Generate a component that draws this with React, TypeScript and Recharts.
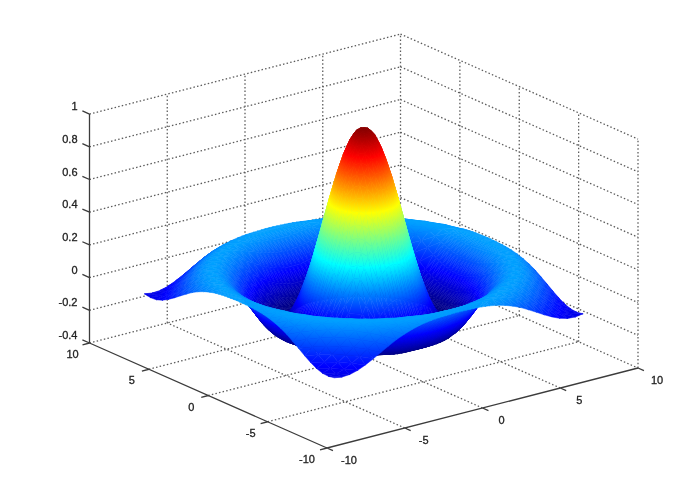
import { ScatterChart, Scatter, XAxis, YAxis } from 'recharts';

// Distance of each grid line from the centre; finer around the peak
const gridSteps = [0, 0.25, 0.5, 0.75, 1, 1.25, 1.5, 1.75, 2, 2.5, 3, 3.5, 4, 4.5, 5, 5.5, 6, 6.5, 7, 7.5, 8];

// Surface heights, quarter of the grid from the centre outwards
const zRow0 = [0.99, 0.985, 0.959, 0.909, 0.841, 0.759, 0.665, 0.562, 0.455, 0.239, 0.047, -0.1, -0.189, -0.217, -0.192, -0.128, -0.047, 0.033, 0.094, 0.125, 0.124];
const zRow1 = [0.985, 0.979, 0.949, 0.899, 0.832, 0.75, 0.657, 0.555, 0.448, 0.234, 0.043, -0.102, -0.19, -0.217, -0.191, -0.127, -0.046, 0.034, 0.094, 0.125, 0.124];
const zRow2 = [0.959, 0.949, 0.919, 0.87, 0.804, 0.724, 0.632, 0.532, 0.428, 0.219, 0.033, -0.109, -0.192, -0.217, -0.189, -0.125, -0.043, 0.036, 0.096, 0.126, 0.123];
const zRow3 = [0.909, 0.899, 0.87, 0.823, 0.759, 0.682, 0.593, 0.496, 0.396, 0.194, 0.016, -0.119, -0.197, -0.217, -0.186, -0.12, -0.039, 0.039, 0.098, 0.126, 0.122];
const zRow4 = [0.841, 0.832, 0.804, 0.759, 0.698, 0.624, 0.54, 0.448, 0.352, 0.161, -0.006, -0.131, -0.202, -0.216, -0.182, -0.114, -0.033, 0.044, 0.1, 0.127, 0.121];
const zRow5 = [0.759, 0.75, 0.724, 0.682, 0.624, 0.555, 0.475, 0.389, 0.299, 0.121, -0.033, -0.146, -0.207, -0.214, -0.175, -0.106, -0.025, 0.05, 0.104, 0.127, 0.12];
const zRow6 = [0.665, 0.657, 0.632, 0.593, 0.54, 0.475, 0.402, 0.322, 0.239, 0.077, -0.063, -0.162, -0.212, -0.211, -0.167, -0.096, -0.016, 0.057, 0.107, 0.128, 0.118];
const zRow7 = [0.562, 0.555, 0.532, 0.496, 0.448, 0.389, 0.322, 0.25, 0.175, 0.029, -0.094, -0.178, -0.215, -0.206, -0.157, -0.085, -0.005, 0.064, 0.111, 0.128, 0.115];
const zRow8 = [0.455, 0.448, 0.428, 0.396, 0.352, 0.299, 0.239, 0.175, 0.109, -0.019, -0.124, -0.192, -0.217, -0.199, -0.145, -0.071, 0.007, 0.073, 0.115, 0.128, 0.112];
const zRow9 = [0.239, 0.234, 0.219, 0.194, 0.161, 0.121, 0.077, 0.029, -0.019, -0.109, -0.177, -0.213, -0.212, -0.176, -0.114, -0.04, 0.033, 0.09, 0.123, 0.126, 0.103];
const zRow10 = [0.047, 0.043, 0.033, 0.016, -0.006, -0.033, -0.063, -0.094, -0.124, -0.177, -0.21, -0.216, -0.192, -0.142, -0.075, -0.003, 0.061, 0.107, 0.128, 0.121, 0.09];
const zRow11 = [-0.1, -0.102, -0.109, -0.119, -0.131, -0.146, -0.162, -0.178, -0.192, -0.213, -0.216, -0.196, -0.155, -0.096, -0.029, 0.036, 0.089, 0.121, 0.128, 0.11, 0.073];
const zRow12 = [-0.189, -0.19, -0.192, -0.197, -0.202, -0.207, -0.212, -0.215, -0.217, -0.212, -0.192, -0.155, -0.104, -0.043, 0.019, 0.073, 0.111, 0.128, 0.121, 0.094, 0.052];
const zRow13 = [-0.217, -0.217, -0.217, -0.217, -0.216, -0.214, -0.211, -0.206, -0.199, -0.176, -0.142, -0.096, -0.043, 0.013, 0.064, 0.103, 0.125, 0.126, 0.107, 0.072, 0.026];
const zRow14 = [-0.192, -0.191, -0.189, -0.186, -0.182, -0.175, -0.167, -0.157, -0.145, -0.114, -0.075, -0.029, 0.019, 0.064, 0.1, 0.123, 0.128, 0.115, 0.085, 0.044, -0.001];
const zRow15 = [-0.128, -0.127, -0.125, -0.12, -0.114, -0.106, -0.096, -0.085, -0.071, -0.04, -0.003, 0.036, 0.073, 0.103, 0.123, 0.128, 0.118, 0.093, 0.056, 0.013, -0.029];
const zRow16 = [-0.047, -0.046, -0.043, -0.039, -0.033, -0.025, -0.016, -0.005, 0.007, 0.033, 0.061, 0.089, 0.111, 0.125, 0.128, 0.118, 0.095, 0.062, 0.022, -0.019, -0.054];
const zRow17 = [0.033, 0.034, 0.036, 0.039, 0.044, 0.05, 0.057, 0.064, 0.073, 0.09, 0.107, 0.121, 0.128, 0.126, 0.115, 0.093, 0.062, 0.025, -0.013, -0.048, -0.075];
const zRow18 = [0.094, 0.094, 0.096, 0.098, 0.1, 0.104, 0.107, 0.111, 0.115, 0.123, 0.128, 0.128, 0.121, 0.107, 0.085, 0.056, 0.022, -0.013, -0.046, -0.072, -0.088];
const zRow19 = [0.125, 0.125, 0.126, 0.126, 0.127, 0.127, 0.128, 0.128, 0.128, 0.126, 0.121, 0.11, 0.094, 0.072, 0.044, 0.013, -0.019, -0.048, -0.072, -0.087, -0.091];
const zRow20 = [0.124, 0.124, 0.123, 0.122, 0.121, 0.12, 0.118, 0.115, 0.112, 0.103, 0.09, 0.073, 0.052, 0.026, -0.001, -0.029, -0.054, -0.075, -0.088, -0.091, -0.084];
const zRows = [zRow0, zRow1, zRow2, zRow3, zRow4, zRow5, zRow6, zRow7, zRow8, zRow9, zRow10, zRow11, zRow12, zRow13, zRow14, zRow15, zRow16, zRow17, zRow18, zRow19, zRow20];

const xTicks = [-10, -5, 0, 5, 10];
const yTicks = [-10, -5, 0, 5, 10];
const zTicks = [-0.4, -0.2, 0, 0.2, 0.4, 0.6, 0.8, 1];

const Z_MIN = -0.217;
const Z_MAX = 1;
const LAST = gridSteps.length - 1;
const GRID = 2 * LAST + 1;

// fixed camera of the plot, 3d -> chart units
const project = (x: number, y: number, z: number) => ({
  px: 363.75 + 15.55 * x - 11.875 * y,
  py: 290.1 - 4 * x - 5.25 * y - 163.5 * z,
});

const clamp = (v: number) => Math.max(0, Math.min(1, v));
const jet = (t: number) => {
  const r = clamp(Math.min(4 * t - 1.5, -4 * t + 4.5));
  const g = clamp(Math.min(4 * t - 0.5, -4 * t + 3.5));
  const b = clamp(Math.min(4 * t + 0.5, -4 * t + 2.5));
  return `rgb(${Math.round(r * 255)},${Math.round(g * 255)},${Math.round(b * 255)})`;
};
const jetBreaks = [0.125, 0.375, 0.625, 0.875];
const toT = (z: number) => (z - Z_MIN) / (Z_MAX - Z_MIN);

// whole surface, mirrored out of the quarter rows, far corner first
const coord = (i: number) => (i <= LAST ? gridSteps[LAST - i] : -gridSteps[i - LAST]);
const surfaceData: { px: number; py: number; z: number }[] = [];
for (let i = 0; i < GRID; i++) {
  for (let j = 0; j < GRID; j++) {
    const z = zRows[Math.abs(LAST - i)][Math.abs(LAST - j)];
    surfaceData.push({ ...project(coord(i), coord(j), z), z });
  }
}

type P3 = [number, number, number];
const dotted: [P3, P3][] = [];
zTicks.forEach((z) => {
  dotted.push([[-10, 10, z], [10, 10, z]]);
  dotted.push([[10, 10, z], [10, -10, z]]);
});
xTicks.slice(1).forEach((x) => dotted.push([[x, 10, -0.4], [x, 10, 1]]));
yTicks.slice(0, 4).forEach((y) => dotted.push([[10, y, -0.4], [10, y, 1]]));
xTicks.slice(1, 4).forEach((x) => dotted.push([[x, -10, -0.4], [x, 10, -0.4]]));
yTicks.slice(1, 4).forEach((y) => dotted.push([[-10, y, -0.4], [10, y, -0.4]]));

const solid: [P3, P3][] = [
  [[-10, 10, -0.4], [-10, 10, 1]],
  [[-10, 10, -0.4], [-10, -10, -0.4]],
  [[-10, -10, -0.4], [10, -10, -0.4]],
];
zTicks.forEach((z) => solid.push([[-10, 10, z], [-10, 10.6, z]]));
yTicks.forEach((y) => solid.push([[-10, y, -0.4], [-10.45, y, -0.4]]));
xTicks.forEach((x) => solid.push([[x, -10, -0.4], [x, -10.5, -0.4]]));

const toPoints = (segs: [P3, P3][]) =>
  segs.flatMap(([a, b]) => [project(...a), project(...b)]);

const dottedData = toPoints(dotted);
const solidData = toPoints(solid);

const zLabels = zTicks.map((z) => ({ ...project(-10, 10, z), label: String(z), kind: 'z' }));
const yLabels = yTicks.map((y) => ({ ...project(-10, y, -0.4), label: String(y), kind: 'y' }));
const xLabels = xTicks.map((x) => ({ ...project(x, -10, -0.4), label: String(x), kind: 'x' }));
const labelData = [...zLabels, ...yLabels, ...xLabels];

const segmentPath = (points: { x: number; y: number }[]) => {
  let d = '';
  for (let i = 0; i + 1 < points.length; i += 2) {
    d += `M${points[i].x},${points[i].y}L${points[i + 1].x},${points[i + 1].y}`;
  }
  return d;
};

const renderDotted = ({ points }: any) => (
  <path d={segmentPath(points)} fill="none" stroke="#5c5c5c" strokeWidth={1.3} strokeDasharray="1.5 2.2" />
);
const renderSolid = ({ points }: any) => (
  <path d={segmentPath(points)} fill="none" stroke="#3c3c3c" strokeWidth={1.3} />
);

// Gouraud style triangle: linear gradient along the height slope in screen space
const triangle = (pts: { x: number; y: number }[], zs: number[], id: string) => {
  const [a, b, c] = pts;
  const det = (b.x - a.x) * (c.y - a.y) - (c.x - a.x) * (b.y - a.y);
  const poly = pts.map((p) => `${p.x},${p.y}`).join(' ');
  const zLo = Math.min(...zs);
  const zHi = Math.max(...zs);
  if (Math.abs(det) < 1e-6 || zHi - zLo < 1e-6) {
    const color = jet(toT((zLo + zHi) / 2));
    return { def: null, el: <polygon key={id} points={poly} fill={color} stroke={color} strokeWidth={0.5} /> };
  }
  const gx = ((zs[1] - zs[0]) * (c.y - a.y) - (zs[2] - zs[0]) * (b.y - a.y)) / det;
  const gy = ((zs[2] - zs[0]) * (b.x - a.x) - (zs[1] - zs[0]) * (c.x - a.x)) / det;
  const g2 = gx * gx + gy * gy;
  const lo = pts[zs.indexOf(zLo)];
  const span = (zHi - zLo) / g2;
  const tLo = toT(zLo);
  const tHi = toT(zHi);
  const stops = [tLo, ...jetBreaks.filter((t) => t > tLo && t < tHi), tHi];
  const def = (
    <linearGradient
      key={id}
      id={id}
      gradientUnits="userSpaceOnUse"
      x1={lo.x}
      y1={lo.y}
      x2={lo.x + gx * span}
      y2={lo.y + gy * span}
    >
      {stops.map((t, k) => (
        <stop key={k} offset={(t - tLo) / (tHi - tLo)} stopColor={jet(t)} />
      ))}
    </linearGradient>
  );
  return { def, el: <polygon key={id} points={poly} fill={`url(#${id})`} stroke={`url(#${id})`} strokeWidth={0.5} /> };
};

const renderSurface = ({ points }: any) => {
  const defs: any[] = [];
  const els: any[] = [];
  for (let i = 0; i < GRID - 1; i++) {
    for (let j = 0; j < GRID - 1; j++) {
      const ids = [i * GRID + j, i * GRID + j + 1, (i + 1) * GRID + j, (i + 1) * GRID + j + 1];
      const tris = [
        [ids[0], ids[1], ids[2]],
        [ids[1], ids[3], ids[2]],
      ];
      tris.forEach((tri, k) => {
        const t = triangle(
          tri.map((n) => points[n]),
          tri.map((n) => surfaceData[n].z),
          `tri-${i}-${j}-${k}`,
        );
        if (t.def) defs.push(t.def);
        els.push(t.el);
      });
    }
  }
  return (
    <g>
      <defs>{defs}</defs>
      {els}
    </g>
  );
};

const labelOffset: Record<string, [number, number]> = {
  z: [-12, -4],
  y: [-17, 15],
  x: [19, 16],
};

const renderLabel = (props: any) => {
  const entry = props.payload ?? props;
  const [dx, dy] = labelOffset[entry.kind];
  const wide = entry.label === '-10' ? (entry.kind === 'x' ? 3 : -3) : 0;
  return (
    <text
      x={props.cx + dx + wide}
      y={props.cy + dy}
      fontFamily="'Liberation Sans', Arial, sans-serif"
      fontSize={11}
      fill="#222"
      stroke="#222"
      strokeWidth={0.3}
      textAnchor={entry.kind === 'z' ? 'end' : 'middle'}
    >
      {entry.label}
    </text>
  );
};

const noDot = () => <g />;

export default function App() {
  return (
    <div style={{ position: 'absolute', left: 0, top: 0, width: 700, height: 488, background: '#fff', filter: 'blur(0.6px)' }}>
      <ScatterChart width={700} height={488} margin={{ top: 0, right: 0, bottom: 0, left: 0 }}>
        <XAxis type="number" dataKey="px" domain={[0, 700]} hide />
        <YAxis type="number" dataKey="py" domain={[0, 488]} reversed hide />
        <Scatter data={dottedData} line={renderDotted} shape={noDot} isAnimationActive={false} />
        <Scatter data={solidData} line={renderSolid} shape={noDot} isAnimationActive={false} />
        <Scatter data={labelData} shape={renderLabel} isAnimationActive={false} />
        <Scatter data={surfaceData} line={renderSurface} shape={noDot} isAnimationActive={false} />
      </ScatterChart>
    </div>
  );
}
